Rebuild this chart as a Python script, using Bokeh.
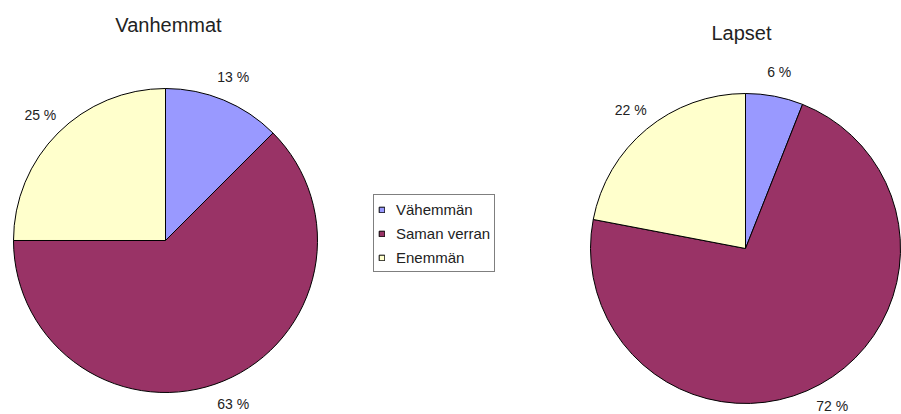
import math
from bokeh.plotting import figure
from bokeh.models import Range1d, Legend, LegendItem, ColumnDataSource
from bokeh.core.properties import value
from bokeh.embed import file_html
from bokeh.resources import INLINE

categories = ["Vähemmän", "Saman verran", "Enemmän"]
colors = ["#9999FF", "#993366", "#FFFFCC"]
titles = ["Vanhemmat", "Lapset"]
parents = [12.5, 62.5, 25.0]
children = [6.0, 72.0, 22.0]
parents_labels = ["13 %", "63 %", "25 %"]
children_labels = ["6 %", "72 %", "22 %"]

W, H = 901, 414
FONT = "Liberation Sans"

p = figure(width=W, height=H, x_range=Range1d(0, W), y_range=Range1d(0, H),
           output_backend="svg", toolbar_location=None, min_border=0)
p.axis.visible = False
p.grid.visible = False
p.outline_line_color = None
p.background_fill_color = "white"
p.border_fill_color = "white"


def pie(vals, labels, cx, cy, r, title, tx, ty):
    total = sum(vals)
    fr = [v / total for v in vals]
    cum = [0.0]
    for f in fr:
        cum.append(cum[-1] + f)
    n = len(vals)
    start = [math.pi / 2 - 2 * math.pi * cum[i + 1] for i in range(n)]
    end = [math.pi / 2 - 2 * math.pi * cum[i] for i in range(n)]
    mid = [(cum[i] + cum[i + 1]) / 2 for i in range(n)]
    lr = r + 25
    lx = [cx + lr * math.sin(2 * math.pi * m) for m in mid]
    ly = [cy + lr * math.cos(2 * math.pi * m) for m in mid]
    ly = [min(y_, cy + lr) if y_ > cy else max(y_, 9) for y_ in ly]
    src = ColumnDataSource(dict(start=start, end=end, color=colors, cat=categories))
    wr = p.wedge(x=cx, y=cy, radius=r, start_angle="start", end_angle="end",
                 fill_color="color", line_color="black", line_width=1, source=src)
    p.text(x=lx, y=ly, text=labels, text_font=value(FONT), text_font_size="14px",
           text_color="#222222", text_align="center", text_baseline="middle")
    p.text(x=[tx], y=[ty], text=[title], text_font=value(FONT), text_font_size="20px",
           text_color="#222222", text_align="center", text_baseline="middle")
    return wr


wl = pie(parents, parents_labels, 165, H - 240, 152, titles[0], 168, H - 24)
wr = pie(children, children_labels, 745, H - 248, 155, titles[1], 741, H - 32)

legend = Legend(items=[LegendItem(label=categories[i], renderers=[wl], index=i) for i in range(3)],
                location=(373, H - 272), border_line_color="black", border_line_width=1,
                padding=4, spacing=4, label_height=20, glyph_width=7, glyph_height=7,
                label_standoff=11, label_text_font=FONT, label_text_font_size="15px",
                label_text_color="#222222", background_fill_color="white",
                background_fill_alpha=1.0, margin=0)
p.add_layout(legend)

open("out.html", "w").write(file_html(p, INLINE))
